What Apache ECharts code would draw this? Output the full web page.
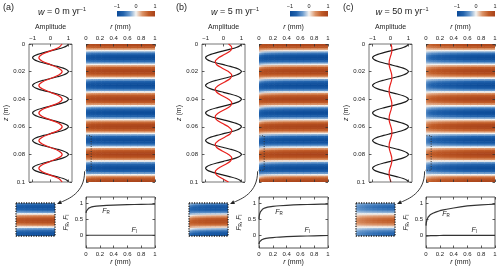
<!DOCTYPE html>
<html><head><meta charset="utf-8">
<script src="https://cdn.jsdelivr.net/npm/echarts@6/dist/echarts.min.js"></script>
<style>html,body{margin:0;padding:0;background:#fff}#c{width:500px;height:270px}</style>
</head><body><div id="c"></div>
<script>
// ---------------- DATA ----------------
const panelLabels = ['(a)', '(b)', '(c)'];
const wValues = ['0', '5', '50'];
const colorbarTicks = ['\u22121', '0', '1'];
const ampTicks = [-1, 0, 1];
const fTicks = [0, 0.5, 1];
const fLabelRY = [0.76, 0.73, 0.68];

// radial positions (mm) for F_R, F_I profiles
const rF = [0, 0.0025, 0.005, 0.0075, 0.01, 0.015, 0.02, 0.025, 0.03, 0.04, 0.05, 0.06, 0.07, 0.08, 0.1, 0.125, 0.15, 0.2, 0.25, 0.3, 0.4, 0.5, 0.6, 0.7, 0.8, 0.9, 1.0];
const FR_a = [0.70, 0.73, 0.75, 0.765, 0.78, 0.80, 0.815, 0.826, 0.835, 0.85, 0.862, 0.872, 0.88, 0.886, 0.896, 0.905, 0.912, 0.922, 0.93, 0.936, 0.946, 0.953, 0.959, 0.964, 0.968, 0.972, 0.975];
const FI_a = [0, 0, 0, 0, 0, 0, 0, 0, 0, 0, 0, 0, 0, 0, 0, 0, 0, 0, 0, 0, 0, 0, 0, 0, 0, 0, 0];
const FR_b = [0.50, 0.58, 0.62, 0.65, 0.675, 0.71, 0.735, 0.755, 0.77, 0.795, 0.815, 0.83, 0.842, 0.852, 0.866, 0.88, 0.89, 0.905, 0.917, 0.926, 0.94, 0.95, 0.958, 0.964, 0.969, 0.974, 0.978];
const FI_b = [-0.28, -0.245, -0.225, -0.21, -0.2, -0.185, -0.172, -0.162, -0.153, -0.14, -0.13, -0.122, -0.115, -0.109, -0.099, -0.09, -0.083, -0.072, -0.063, -0.056, -0.045, -0.037, -0.03, -0.024, -0.018, -0.013, -0.008];
const FR_c = [0.30, 0.36, 0.40, 0.43, 0.455, 0.49, 0.52, 0.545, 0.565, 0.595, 0.62, 0.64, 0.655, 0.668, 0.69, 0.715, 0.735, 0.77, 0.795, 0.815, 0.855, 0.89, 0.92, 0.94, 0.955, 0.965, 0.975];
const FI_c = [-0.025, -0.024, -0.023, -0.022, -0.021, -0.02, -0.019, -0.018, -0.017, -0.016, -0.015, -0.014, -0.013, -0.012, -0.011, -0.01, -0.009, -0.008, -0.007, -0.006, -0.005, -0.004, -0.003, -0.003, -0.002, -0.002, -0.001];

// depth samples (m) and the in-phase / quadrature depth profiles (black curve = in-phase)
const zs = [0,0.00125,0.0025,0.00375,0.005,0.00625,0.0075,0.00875,
0.01,0.01125,0.0125,0.01375,0.015,0.01625,0.0175,0.01875,
0.02,0.02125,0.0225,0.02375,0.025,0.02625,0.0275,0.02875,
0.03,0.03125,0.0325,0.03375,0.035,0.03625,0.0375,0.03875,
0.04,0.04125,0.0425,0.04375,0.045,0.04625,0.0475,0.04875,
0.05,0.05125,0.0525,0.05375,0.055,0.05625,0.0575,0.05875,
0.06,0.06125,0.0625,0.06375,0.065,0.06625,0.0675,0.06875,
0.07,0.07125,0.0725,0.07375,0.075,0.07625,0.0775,0.07875,
0.08,0.08125,0.0825,0.08375,0.085,0.08625,0.0875,0.08875,
0.09,0.09125,0.0925,0.09375,0.095,0.09625,0.0975,0.09875,
0.1];
const inPhase = [1,0.92,0.71,0.38,0,-0.38,-0.71,-0.92,
-1,-0.92,-0.71,-0.38,0,0.38,0.71,0.92,
1,0.92,0.71,0.38,0,-0.38,-0.71,-0.92,
-1,-0.92,-0.71,-0.38,0,0.38,0.71,0.92,
1,0.92,0.71,0.38,0,-0.38,-0.71,-0.92,
-1,-0.92,-0.71,-0.38,0,0.38,0.71,0.92,
1,0.92,0.71,0.38,0,-0.38,-0.71,-0.92,
-1,-0.92,-0.71,-0.38,0,0.38,0.71,0.92,
1,0.92,0.71,0.38,0,-0.38,-0.71,-0.92,
-1,-0.92,-0.71,-0.38,0,0.38,0.71,0.92,
1];
const quadrature = [0,0.38,0.71,0.92,1,0.92,0.71,0.38,
0,-0.38,-0.71,-0.92,-1,-0.92,-0.71,-0.38,
0,0.38,0.71,0.92,1,0.92,0.71,0.38,
0,-0.38,-0.71,-0.92,-1,-0.92,-0.71,-0.38,
0,0.38,0.71,0.92,1,0.92,0.71,0.38,
0,-0.38,-0.71,-0.92,-1,-0.92,-0.71,-0.38,
0,0.38,0.71,0.92,1,0.92,0.71,0.38,
0,-0.38,-0.71,-0.92,-1,-0.92,-0.71,-0.38,
0,0.38,0.71,0.92,1,0.92,0.71,0.38,
0,-0.38,-0.71,-0.92,-1,-0.92,-0.71,-0.38,
0];

// red amplitude curves
const zRed = [0,0.0025,0.005,0.0075,0.01,0.0125,0.015,0.0175,
0.02,0.0225,0.025,0.0275,0.03,0.0325,0.035,0.0375,
0.04,0.0425,0.045,0.0475,0.05,0.0525,0.055,0.0575,
0.06,0.0625,0.065,0.0675,0.07,0.0725,0.075,0.0775,
0.08,0.0825,0.085,0.0875,0.09,0.0925,0.095,0.0975,0.1];
const redA = [0.65,0.46,0,-0.46,-0.65,-0.46,0,0.46,
0.65,0.46,0,-0.46,-0.65,-0.46,0,0.46,
0.65,0.46,0,-0.46,-0.65,-0.46,0,0.46,
0.65,0.46,0,-0.46,-0.65,-0.46,0,0.46,
0.65,0.46,0,-0.46,-0.65,-0.46,0,0.46,0.65];
const redB = [0.28,0.46,0.38,0.07,-0.28,-0.46,-0.38,-0.07,
0.28,0.46,0.38,0.07,-0.28,-0.46,-0.38,-0.07,
0.28,0.46,0.38,0.07,-0.28,-0.46,-0.38,-0.07,
0.28,0.46,0.38,0.07,-0.28,-0.46,-0.38,-0.07,
0.28,0.46,0.38,0.07,-0.28,-0.46,-0.38,-0.07,0.28];
const redC = [0.025,0.07,0.075,0.035,-0.025,-0.07,-0.075,-0.035,
0.025,0.07,0.075,0.035,-0.025,-0.07,-0.075,-0.035,
0.025,0.07,0.075,0.035,-0.025,-0.07,-0.075,-0.035,
0.025,0.07,0.075,0.035,-0.025,-0.07,-0.075,-0.035,
0.025,0.07,0.075,0.035,-0.025,-0.07,-0.075,-0.035,0.025];

// zoomed window (r in mm, z in m)
const insetR = [0, 0.08];
const insetZ = [0.0665, 0.0915];

// ---------------- LAYOUT / STYLE ----------------
const FONT = '"Liberation Sans", Arial, sans-serif';
const TXT = '#222';
const palette = ['#0b4a97', '#2263ad', '#6e9dcf', '#f5f3f0', '#dc9468', '#c05b27', '#a8421a'];
const panelDX = [0, 173, 340];
const panelsF = [[FR_a, FI_a, redA], [FR_b, FI_b, redB], [FR_c, FI_c, redC]];

const chart = echarts.init(document.getElementById('c'), null, {renderer: 'canvas'});
const option = {animation: false, backgroundColor: '#fff', grid: [], xAxis: [], yAxis: [], series: [], visualMap: []};
const heatSeriesIdx = [];
const minus = v => String(v).replace('-', '\u2212');

function mergeDeep(a, b) {
  const o = Array.isArray(a) ? a.slice() : Object.assign({}, a);
  for (const k in b) {
    if (b[k] && typeof b[k] === 'object' && !Array.isArray(b[k]) && a && typeof a[k] === 'object' && !Array.isArray(a[k])) o[k] = mergeDeep(a[k], b[k]);
    else o[k] = b[k];
  }
  return o;
}
function ax(extra) {
  const base = {
    type: 'value', z: 10, axisLine: {show: false, onZero: false}, splitLine: {show: false},
    axisTick: {show: true, inside: true, length: 2.5, lineStyle: {color: '#333', width: 0.8}},
    axisLabel: {show: false, fontSize: 6, color: TXT, fontFamily: FONT, margin: 3, formatter: minus},
    nameTextStyle: {fontSize: 7, color: TXT, fontFamily: FONT,
      rich: {i: {fontStyle: 'italic', fontSize: 7, fontFamily: FONT, color: TXT}}}
  };
  return mergeDeep(base, extra);
}
const addGrid = g => (option.grid.push(g), option.grid.length - 1);
const addX = a => (option.xAxis.push(a), option.xAxis.length - 1);
const addY = a => (option.yAxis.push(a), option.yAxis.length - 1);

function renderCell(params, api) {
  const p0 = api.coord([api.value(0), api.value(2)]);
  const p1 = api.coord([api.value(1), api.value(3)]);
  const cs = params.coordSys;
  const rect = echarts.graphic.clipRectByRect({
    x: Math.min(p0[0], p1[0]) - 0.3, y: Math.min(p0[1], p1[1]) - 0.3,
    width: Math.abs(p1[0] - p0[0]) + 0.6, height: Math.abs(p1[1] - p0[1]) + 0.6
  }, {x: cs.x, y: cs.y, width: cs.width, height: cs.height});
  return rect && {type: 'rect', shape: rect, style: {fill: api.visual('color')}};
}

function cellTable(FR, FI, rRange, zRange) {
  const out = [];
  for (let i = 0; i < rF.length; i++) {
    const r0 = i === 0 ? rF[0] : (rF[i - 1] + rF[i]) / 2;
    const r1 = i === rF.length - 1 ? rF[i] : (rF[i] + rF[i + 1]) / 2;
    if (r1 < rRange[0] || r0 > rRange[1]) continue;
    for (let j = 0; j < zs.length; j++) {
      const z0 = j === 0 ? zs[0] : (zs[j - 1] + zs[j]) / 2;
      const z1 = j === zs.length - 1 ? zs[j] : (zs[j] + zs[j + 1]) / 2;
      if (z1 < zRange[0] || z0 > zRange[1]) continue;
      out.push([r0, r1, z0, z1, FR[i] * inPhase[j] - FI[i] * quadrature[j]]);
    }
  }
  return out;
}

const refs = [];
panelDX.forEach((dx, p) => {
  const [FR, FI, red] = panelsF[p];
  // amplitude plot
  const gA = addGrid({left: 29 + dx, top: 44, width: 43, height: 138, show: true, borderColor: '#777', borderWidth: 1});
  const xA = addX(ax({gridIndex: gA, position: 'top', min: -1.2, max: 1.2,
    axisTick: {customValues: ampTicks}, axisLabel: {show: true, customValues: ampTicks},
    name: 'Amplitude', nameLocation: 'middle', nameGap: 11}));
  addX(ax({gridIndex: gA, position: 'bottom', min: -1.2, max: 1.2, axisTick: {customValues: ampTicks}}));
  const yA = addY(ax({gridIndex: gA, position: 'left', inverse: true, min: 0, max: 0.1, interval: 0.02,
    axisLabel: {show: true, margin: 4}, name: '{i|z} (m)', nameLocation: 'middle', nameGap: 17}));
  addY(ax({gridIndex: gA, position: 'right', inverse: true, min: 0, max: 0.1, interval: 0.02}));
  option.series.push({type: 'line', xAxisIndex: xA, yAxisIndex: yA, symbol: 'none', smooth: 0.3,
    lineStyle: {color: '#1a1a1a', width: 1.2}, data: zs.map((z, j) => [inPhase[j], z]), z: 3});
  option.series.push({type: 'line', xAxisIndex: xA, yAxisIndex: yA, symbol: 'none', smooth: 0.3,
    lineStyle: {color: '#e8211d', width: 1.2}, data: zRed.map((z, j) => [red[j], z]), z: 4});

  // heat map
  const gH = addGrid({left: 86 + dx, top: 44, width: 69, height: 138});
  const xH = addX(ax({gridIndex: gH, position: 'top', min: 0, max: 1, interval: 0.2,
    axisLabel: {show: true}, name: '{i|r} (mm)', nameLocation: 'middle', nameGap: 11}));
  addX(ax({gridIndex: gH, position: 'bottom', min: 0, max: 1, interval: 0.2}));
  const yH = addY(ax({gridIndex: gH, position: 'left', inverse: true, min: 0, max: 0.1, interval: 0.02}));
  addY(ax({gridIndex: gH, position: 'right', inverse: true, min: 0, max: 0.1, interval: 0.02}));
  heatSeriesIdx.push(option.series.length);
  option.series.push({type: 'custom', xAxisIndex: xH, yAxisIndex: yH, renderItem: renderCell, progressive: 0,
    encode: {x: [0, 1], y: [2, 3]}, data: cellTable(FR, FI, [0, 1], [0, 0.1]), z: 1});
  option.series.push({type: 'line', xAxisIndex: xH, yAxisIndex: yH, symbol: 'none', clip: false, z: 6,
    lineStyle: {color: '#333', width: 1, type: [1, 1.5]},
    data: [[-0.03, insetZ[0]], [0.075, insetZ[0]], [0.075, insetZ[1]], [-0.03, insetZ[1]], [-0.03, insetZ[0]]]});

  // F_R, F_I plot
  const gF = addGrid({left: 86 + dx, top: 197, width: 69, height: 51, show: true, borderColor: '#555', borderWidth: 1});
  const xF = addX(ax({gridIndex: gF, position: 'bottom', min: 0, max: 1, interval: 0.2,
    axisLabel: {show: true, margin: 3}, name: '{i|r} (mm)', nameLocation: 'middle', nameGap: 11}));
  addX(ax({gridIndex: gF, position: 'top', min: 0, max: 1, interval: 0.2}));
  const yF = addY(ax({gridIndex: gF, position: 'left', min: -0.4, max: 1.2,
    axisTick: {customValues: fTicks}, axisLabel: {show: true, customValues: fTicks},
    name: '{i|F}{s|R}{n|, }{i|F}{s|I}', nameLocation: 'middle', nameGap: 12,
    nameTextStyle: {rich: {
      i: {fontStyle: 'italic', fontSize: 6.5, lineHeight: 9, verticalAlign: 'middle'},
      n: {fontSize: 6.5, lineHeight: 9, verticalAlign: 'middle', fontFamily: FONT, color: TXT},
      s: {fontSize: 4.5, lineHeight: 4.5, verticalAlign: 'bottom', fontFamily: FONT, color: TXT}}}}));
  addY(ax({gridIndex: gF, position: 'right', min: -0.4, max: 1.2, axisTick: {customValues: fTicks}}));
  option.series.push({type: 'line', xAxisIndex: xF, yAxisIndex: yF, symbol: 'none',
    lineStyle: {color: '#333', width: 1.2}, data: rF.map((r, i) => [r, FR[i]])});
  option.series.push({type: 'line', xAxisIndex: xF, yAxisIndex: yF, symbol: 'none',
    lineStyle: {color: '#333', width: 1.2}, data: rF.map((r, i) => [r, FI[i]])});

  // inset
  const gI = addGrid({left: 16 + dx, top: 203, width: 39, height: 33});
  const xI = addX({gridIndex: gI, type: 'value', show: false, min: insetR[0], max: insetR[1]});
  const yI = addY({gridIndex: gI, type: 'value', show: false, inverse: true, min: insetZ[0], max: insetZ[1]});
  heatSeriesIdx.push(option.series.length);
  option.series.push({type: 'custom', xAxisIndex: xI, yAxisIndex: yI, renderItem: renderCell, progressive: 0,
    encode: {x: [0, 1], y: [2, 3]}, data: cellTable(FR, FI, insetR, insetZ), z: 1});
  option.series.push({type: 'line', xAxisIndex: xI, yAxisIndex: yI, symbol: 'none', clip: false, z: 6,
    lineStyle: {color: '#222', width: 1.3, type: [1.2, 1.3]},
    data: [[insetR[0], insetZ[0]], [insetR[1], insetZ[0]], [insetR[1], insetZ[1]], [insetR[0], insetZ[1]], [insetR[0], insetZ[0]]]});

  refs.push({dx, gH, gF, gI});
});

option.visualMap.push({type: 'continuous', show: false, min: -1, max: 1, dimension: 4,
  seriesIndex: heatSeriesIdx, inRange: {color: palette}});

chart.setOption(option);

// ---------------- ANNOTATIONS ----------------
const graphics = [];
const richTitle = {
  i: {fontStyle: 'italic', fontSize: 9, fontFamily: FONT, lineHeight: 12, verticalAlign: 'middle', fill: TXT},
  n: {fontSize: 9, fontFamily: FONT, lineHeight: 12, verticalAlign: 'middle', fill: TXT},
  sup: {fontSize: 5.5, fontFamily: FONT, lineHeight: 6, verticalAlign: 'top', fill: TXT}
};
const richF = {
  i: {fontStyle: 'italic', fontSize: 7, fontFamily: FONT, lineHeight: 9, verticalAlign: 'middle', fill: TXT},
  s: {fontSize: 4.5, fontFamily: FONT, lineHeight: 4.5, verticalAlign: 'bottom', fill: TXT}
};
refs.forEach((rf, p) => {
  const dx = rf.dx;
  graphics.push({type: 'text', x: 3 + dx, y: 8, style: {text: panelLabels[p], font: '9px ' + FONT, fill: TXT, verticalAlign: 'middle'}});
  graphics.push({type: 'text', x: 62 + dx, y: 12, style: {text: '{i|w}{n| = ' + wValues[p] + ' m yr}{sup|\u22121}', rich: richTitle, align: 'center', verticalAlign: 'middle'}});
  // colour bar
  const hr = chart.convertToPixel({gridIndex: rf.gH}, [1, 0]);
  const cbx = hr[0] - 38;
  graphics.push({type: 'rect', shape: {x: cbx, y: 11, width: 38, height: 5.5},
    style: {fill: new echarts.graphic.LinearGradient(0, 0, 1, 0, palette.map((c, k) => ({offset: k / (palette.length - 1), color: c})))}});
  colorbarTicks.forEach((t, k) => {
    graphics.push({type: 'text', x: cbx + k * 19, y: 6, style: {text: t, font: '5.5px ' + FONT, fill: TXT, align: 'center', verticalAlign: 'middle'}});
  });
  // F labels
  const pR = chart.convertToPixel({gridIndex: rf.gF}, [0.29, fLabelRY[p]]);
  const pI = chart.convertToPixel({gridIndex: rf.gF}, [0.70, 0.17]);
  graphics.push({type: 'text', x: pR[0], y: pR[1], style: {text: '{i|F}{s|R}', rich: richF, align: 'center', verticalAlign: 'middle'}});
  graphics.push({type: 'text', x: pI[0], y: pI[1], style: {text: '{i|F}{s|I}', rich: richF, align: 'center', verticalAlign: 'middle'}});
  // arrow from dotted window to inset
  const s = chart.convertToPixel({gridIndex: rf.gH}, [-0.02, insetZ[1]]);
  const e = chart.convertToPixel({gridIndex: rf.gI}, [insetR[1], insetZ[0]]);
  const start = [s[0], s[1] + 1];
  const tip = [e[0] + 2, e[1] + 1];
  const c2 = [tip[0] + 11, tip[1] - 5];
  const c1 = [start[0], start[1] + 22];
  let dxv = tip[0] - c2[0], dyv = tip[1] - c2[1];
  const L = Math.hypot(dxv, dyv); dxv /= L; dyv /= L;
  const base = [tip[0] - dxv * 4.5, tip[1] - dyv * 4.5];
  graphics.push({type: 'bezierCurve', shape: {x1: start[0], y1: start[1], cpx1: c1[0], cpy1: c1[1], cpx2: c2[0], cpy2: c2[1], x2: base[0], y2: base[1]},
    style: {stroke: '#222', lineWidth: 0.9, fill: null}});
  graphics.push({type: 'polygon', shape: {points: [tip, [base[0] - dyv * 2, base[1] + dxv * 2], [base[0] + dyv * 2, base[1] - dxv * 2]]},
    style: {fill: '#222'}});
});
chart.setOption({graphic: graphics});
</script></body></html>
